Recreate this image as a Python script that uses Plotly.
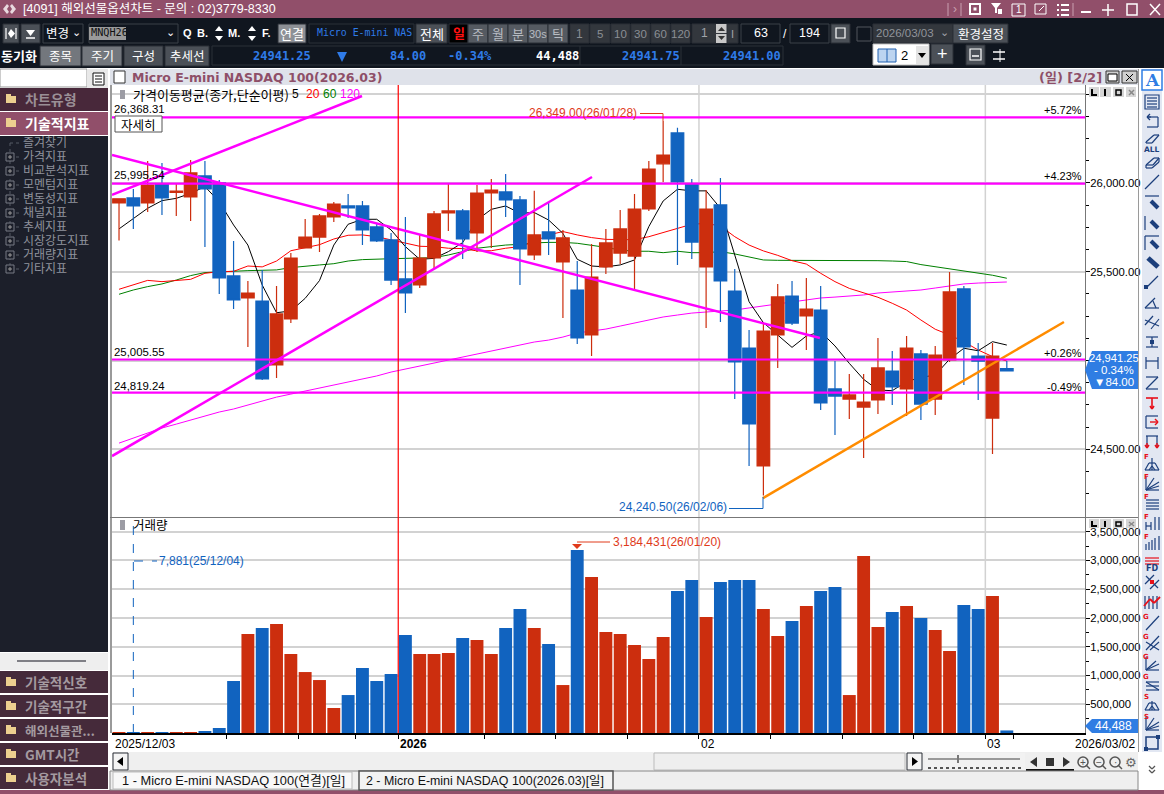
import plotly.graph_objects as go

# ---------- data ----------
opens = [25887,25915,25887,25994,25947,25921,26039,26000,25476,25352,
         25335,24975,25234,25634,25695,25808,25870,25870,25752,25679,
         25459,25425,25577,25831,25842,25718,25943,25949,25904,25594,
         25724,25555,25397,25144,25527,25605,25588,25853,26107,26281,
         25994,25527,25876,25391,25070,24406,25144,25363,25251,25284,
         24840,24783,24738,24778,24941,24840,25037,24783,25003,25403,
         25025,24676,24955]
closes = [25910,25870,25988,25915,25953,26056,25966,25465,25341,25380,
          24896,25262,25577,25695,25814,25881,25859,25735,25673,25453,
          25380,25577,25825,25842,25684,25943,25960,25904,25628,25707,
          25684,25690,25127,25470,25662,25741,25853,26078,26157,26005,
          25667,25853,25448,24992,24643,25166,25358,25211,25290,24761,
          24800,24806,24766,24958,24851,25070,24755,25031,25386,25076,
          24997,25025,24941.25]
highs = [25910,25966,26123,26112,25994,26129,26123,26016,25673,25448,
         25510,25420,25605,25797,25825,25893,25938,25898,25774,25718,
         25808,25707,25842,26000,25853,25988,26022,26050,25926,25955,
         25893,25735,25560,25656,25741,25848,25938,26123,26349,26310,
         26022,25960,26028,25515,25172,25217,25431,25448,25465,25420,
         24997,24924,24924,25127,25054,25138,25059,25082,25498,25420,
         25099,25099,24997]
lows = [25675,25741,25836,25819,25814,25786,25639,25375,25290,25076,
        24890,24902,25211,25634,25611,25780,25802,25650,25667,25425,
        25268,25408,25521,25729,25572,25611,25634,25808,25425,25566,
        25594,25239,25093,25025,25487,25543,25403,25842,26005,25538,
        25572,25183,25217,24783,24406,24240.5,24958,25200,25059,24721,
        24581,24671,24451,24699,24750,24688,24665,24693,24992,24862,
        24778,24474,24938]
volume = [15000,7881,15000,15000,15000,15000,35000,87000,904000,1720000,
          1825000,1895000,1373000,1060000,921000,435000,660000,1130000,904000,1026000,
          1703000,1373000,1373000,1390000,1651000,1617000,1373000,1825000,2155000,1825000,
          1547000,834000,3184431,2712000,1756000,1720000,1530000,1286000,1669000,2468000,
          2660000,2016000,2625000,2660000,2660000,2155000,1686000,1947000,2207000,2468000,
          2538000,660000,3077000,1842000,2103000,2207000,2000000,1790000,1425000,2225000,
          2155000,2381000,44488]
ma5 = [25741,25801,25857,25900,25913,25941,25979,25894,25763,25650,
       25425,25269,25279,25350,25450,25650,25767,25795,25795,25735,
       25641,25570,25575,25613,25664,25791,25851,25870,25829,25833,
       25791,25716,25570,25532,25527,25538,25566,25754,25898,25964,
       25955,25955,25857,25594,25331,25213,25144,25074,25138,25162,
       25082,24984,24894,24834,24830,24881,24905,24918,25007,25069,
       25055,25106,25087]
ma20 = [25401,25425,25451,25444,25450,25457,25491,25500,25502,25532,
        25527,25560,25618,25637,25652,25684,25705,25707,25697,25679,
        25660,25643,25641,25632,25630,25617,25618,25632,25641,25669,
        25707,25726,25707,25692,25682,25680,25680,25697,25720,25744,
        25767,25772,25757,25697,25650,25617,25592,25562,25543,25491,
        25444,25406,25382,25356,25322,25284,25228,25176,25144,25106,
        25059,25022,24997]
ma60 = [25373,25397,25416,25431,25453,25478,25495,25500,25502,25506,
        25508,25510,25523,25532,25538,25545,25560,25568,25572,25573,
        25575,25579,25579,25594,25613,25632,25641,25650,25654,25662,
        25665,25665,25660,25650,25637,25622,25615,25615,25607,25615,
        25607,25607,25613,25600,25585,25566,25564,25564,25562,25564,
        25566,25566,25566,25562,25560,25557,25540,25528,25519,25508,
        25495,25480,25463]
ma120 = [24535,24564,24592,24620,24642,24665,24687,24710,24727,24749,
         24772,24794,24811,24828,24845,24862,24879,24896,24913,24935,
         24952,24969,24986,25003,25020,25037,25053,25070,25087,25104,
         25115,25132,25155,25166,25177,25194,25211,25228,25245,25256,
         25267,25273,25279,25284,25296,25307,25318,25329,25341,25352,
         25357,25363,25369,25380,25386,25391,25397,25408,25419,25431,
         25436,25439,25442]
bar_index = list(range(63))

hline_levels = [26368.31, 25995.54, 25005.55, 24819.24]
hline_labels = ["26,368.31", "25,995.54", "25,005.55", "24,819.24"]
hline_pcts = ["+5.72%", "+4.23%", "+0.26%", "-0.49%"]
trend_up_x = [-0.49, 33.03];   trend_up_y = [24462, 26033]
trend_top_x = [-0.49, 16.97];  trend_top_y = [25932, 26489]
trend_dn_x = [-0.49, 48.95];   trend_dn_y = [26157, 25127]
trend_or_x = [44.97, 65.99];   trend_or_y = [24225, 25217]

price_ticks = [24500, 25000, 25500, 26000, 26500]
price_labels = ["24,500.00", "", "25,500.00", "26,000.00", ""]
price_minor = [24250,24375,24625,24750,24875,25125,25250,25375,25625,25750,25875,26125,26250,26375]
vol_ticks = [500000,1000000,1500000,2000000,2500000,3000000,3500000]
vol_minor = [250000,750000,1250000,1750000,2250000,2750000,3250000]
x_ticks = [7.5,12.5,16.5,19.5,25.5,30.5,35.5,40.5,45.5,50.5,55.5,60.5,62.5]
year_line = 19.5
month_lines = [40.5, 60.5]

RED = "#cc2e0e"; BLUE = "#1163bf"; MAG = "#ff00ff"; ORG = "#ff8c00"
W, H = 1164, 794
SANS = "Liberation Sans, Noto Sans CJK KR"
KR = "Noto Sans CJK KR"
MONO = "DejaVu Sans Mono"

shapes, annos = [], []
def px(x): return x / W
def py(y): return 1 - y / H
def rect(x0, y0, x1, y1, fill=None, line=None, lw=1):
    shapes.append(dict(type="rect", xref="paper", yref="paper", x0=px(x0), x1=px(x1), y0=py(y1), y1=py(y0),
                       fillcolor=fill or "rgba(0,0,0,0)", line=dict(color=line or "rgba(0,0,0,0)", width=lw if line else 0)))
def ln(x0, y0, x1, y1, color="#000", lw=1, dash=None):
    shapes.append(dict(type="line", xref="paper", yref="paper", x0=px(x0), x1=px(x1), y0=py(y0), y1=py(y1),
                       line=dict(color=color, width=lw, dash=dash or "solid")))
def poly(pts, fill):
    d = "M " + " L ".join(f"{px(x):.5f},{py(y):.5f}" for x, y in pts) + " Z"
    shapes.append(dict(type="path", xref="paper", yref="paper", path=d, fillcolor=fill, line=dict(width=0)))
def txt(x, y, s, size=12, color="#000", anchor="left", family=SANS, bold=False):
    annos.append(dict(xref="paper", yref="paper", x=px(x), y=py(y), text=f"<b>{s}</b>" if bold else s, showarrow=False,
                      xanchor=anchor, yanchor="middle", align=anchor, borderpad=0,
                      font=dict(family=family, size=size, color=color)))
def btn(x0, y0, x1, y1, label, fill="#4b5057", color="#fff", size=13, family=KR):
    rect(x0, y0, x1, y1, fill, "#2b2f36")
    if label:
        txt((x0 + x1) / 2, (y0 + y1) / 2, label, size, color, "center", family)

# ---------- window chrome ----------
rect(0, 0, W, 18, "#914f6a")
rect(0, 18, W, 68, "#10161f")
txt(22, 9, "[4091] 해외선물옵션차트 - 문의 : 02)3779-8330", 12.5, "#ffffff")
poly([(3,9),(7,4),(9,6),(7,9),(9,12),(7,14)], "#e8d8de"); poly([(16,9),(12,4),(10,6),(12,9),(10,12),(12,14)], "#e8d8de")
# title bar icons
ln(948,3,948,16,"#c9a0b0"); ln(961,3,961,16,"#c9a0b0"); txt(955,9,"›",12,"#c9a0b0","center")
rect(970,4,980,14,None,"#fff",2); rect(973.5,7.5,976.5,10.5,"#fff")
poly([(991,3),(1001,3),(997,8),(997,13),(995,13),(995,8)],"#fff"); rect(998,9,1002,14,"#fff")
rect(1012,4,1025,16,None,"#fff",1); txt(1018.5,10,"1",10,"#fff","center")
rect(1035,4,1046,14,None,"#fff",1); ln(1039,11,1044,6,"#fff",1)
for yy in (5,10,15):
    rect(1057,yy-1,1059,yy+1,"#fff"); ln(1061,yy,1069,yy,"#fff",2)
ln(1073,3,1073,16,"#c9a0b0")
ln(1081,12,1091,12,"#fff",2)
ln(1108,4,1108,16,"#fff",1.5); ln(1102,10,1114,10,"#fff",1.5)
rect(1127,4,1137,15,None,"#fff",1.5)
ln(1150,4,1160,15,"#fff",1.5); ln(1160,4,1150,15,"#fff",1.5)

# toolbar row 1
y0, y1 = 24, 43
btn(3,y0,19,y1,"",fill="#4b5057"); ln(6,28,6,39,"#fff",1.2); ln(16,28,16,39,"#fff",1.2); poly([(11,29),(15,33.5),(11,38),(8,33.5)],"#fff")
btn(21,y0,40,y1,""); poly([(26,30),(35,30),(30.5,36)],"#fff"); ln(26,38,35,38,"#fff",1.5)
rect(43,y0,83,y1,"#10161f","#3a4048"); txt(45,33,"변경",12.5,"#fff",family=KR); txt(76,32,"⌄",11,"#fff","center",family=SANS)
rect(89,y0,178,y1,"#10161f","#3a4048"); rect(89,27,126,40,"#9a9a9a"); txt(89.5,33,"MNQH26",10.2,"#111",family=MONO)
txt(170,32,"⌄",11,"#fff","center",SANS)
for x,s in ((187,"Q"),(202,"B."),(234,"M."),(266,"F.")):
    txt(x,33,s,11,"#fff","center",SANS,True)
for x in (219,252):
    poly([(x-4,31),(x+4,31),(x,26)],"#fff"); poly([(x-4,36),(x+4,36),(x,41)],"#fff")
btn(278,y0,306,y1,"연결",fill="#8d9096",size=13)
rect(309,y0,414,y1,"#10161f","#2a3038"); txt(316,33,"Micro E-mini NAS",9.9,"#2f7be8",family=MONO)
btn(416,y0,447,y1,"전체")
rect(449,y0,468,y1,"#000","#2b2f36"); txt(458.5,33,"일",13,"#ff1010","center",KR,True)
for x0,x1,s in ((468,488,"주"),(488,508,"월"),(508,528,"분"),(528,548,"30s"),(548,568,"틱")):
    btn(x0,y0,x1,y1,s,fill="#555a61",color="#b8bcc2",size=11 if s=="30s" else 13,family=SANS if s=="30s" else KR)
btn(570,y0,589,y1,"1",fill="#33373d",color="#8b8f95",size=12,family=SANS)
for x0,x1,s in ((590,610,"5"),(611,630,"10"),(631,650,"30"),(651,670,"60"),(671,690,"120")):
    btn(x0,y0,x1,y1,s,fill="#33373d",color="#8b8f95",size=11.5,family=SANS)
btn(692,y0,727,y1,"",fill="#33373d",color="#a0a4aa",size=12,family=SANS)
txt(704,33,"1",12,"#a0a4aa","center")
rect(716,y0,727,33,"#c8c8c8"); rect(716,34,727,y1,"#c8c8c8")
poly([(718,31),(725,31),(721.5,27)],"#333"); poly([(718,36),(725,36),(721.5,40)],"#333")
btn(727,y0,738,y1,"I",fill="#33373d",color="#a0a4aa",size=11,family=SANS)
rect(741,y0,780,y1,"#10161f","#3a4048"); txt(760.5,33,"63",12.5,"#fff","center",SANS)
txt(785,34,"/",12,"#fff","center",SANS)
rect(790,y0,829,y1,"#10161f","#3a4048"); txt(809.5,33,"194",12.5,"#fff","center",SANS)
btn(831,y0,850,y1,""); rect(836,28,845,38,None,"#fff",1.2)
rect(857,27,871,41,None,"#50555c")
rect(873,y0,953,y1,"#33373d","#2b2f36"); txt(875,33,"2026/03/03",11.5,"#90949a",family=SANS); txt(944,32,"⌄",11,"#a0a4aa","center",SANS)
btn(953,y0,1008,y1,"환경설정",size=12.5)

# toolbar row 2
txt(0,56,"동기화",13,"#fff",family=KR,bold=True)
for x0,x1,s,f in ((40,81,"종목","#73777d"),(82,122,"주기","#73777d"),(124,163,"구성","#4b5057"),(165,209,"추세선","#4b5057")):
    btn(x0,46,x1,66,s,fill=f,size=12.5)
rect(212,46,783,65,"#10161f","#2a3038")
for x in (580,681):
    ln(x,46,x,65,"#2a3038")
for x,s,c in ((282,"24941.25","#2f7be8"),(408,"84.00","#2f7be8"),(470,"-0.34%","#2f7be8"),(557,"44,488","#ffffff"),(651,"24941.75","#2f7be8"),(752,"24941.00","#2f7be8")):
    txt(x,56,s,12,c,"center",MONO,True)
poly([(337,52),(347,52),(342,62)],"#2f7be8")
rect(873,44,929,65,"#ffffff","#c0c0c0"); rect(878,49,896,62,"#bcd4f0","#2060b0"); ln(887,49,887,62,"#2060b0")
txt(904,55,"2",13,"#000","center",SANS); rect(916,46,928,64,"#e4e4e4"); poly([(918,53),(926,53),(922,58)],"#000")
btn(931,44,953,64,"+",size=18,family=SANS)
btn(966,45,985,65,""); rect(970,49,981,60,None,"#fff",1.2); ln(972,56,979,56,"#fff",1.5)
rect(989,45,1008,65,"#10161f"); ln(993,52,1005,52,"#fff",1.5); ln(993,59,1005,59,"#fff",1.5); ln(1000,49,1000,62,"#fff",1)

# left panel
rect(0,69,87,87,"#ffffff","#999999"); rect(87,69,108,88,"#e8e8e8")
rect(93,73,104,85,"#ffffff","#111",1); [ln(95,yy,102,yy,"#111") for yy in (76,79,82)]
rect(0,88,108,111,"#48283a"); rect(0,112,108,135,"#914f6a"); rect(0,136,108,652,"#1c1f2a")
def folder(y, fill="#eccf8f"):
    rect(6,y-3,16,y+4,fill); rect(6,y-5,11,y-2,fill)
folder(99); txt(24,99,"차트유형",14,"#9a8f96",family=KR,bold=True)
folder(123); txt(24,123,"기술적지표",14,"#ffffff",family=KR,bold=True)
tree_items = ["즐겨찾기","가격지표","비교분석지표","모멘텀지표","변동성지표","채널지표","추세지표","시장강도지표","거래량지표","기타지표"]
tree_y = [143,157,171,185,199,213,227,241,255,269]
ln(10,143,10,269,"#555a64",1,"dot")
for k,(s,yy) in enumerate(zip(tree_items,tree_y)):
    ln(10,yy,20,yy,"#555a64",1,"dot")
    if k:
        rect(6,yy-4,14,yy+4,"#1c1f2a","#777a84"); ln(8,yy,12,yy,"#999"); ln(10,yy-2,10,yy+2,"#999")
    txt(22,yy,s,12,"#8f929c",family=SANS)
rect(0,653,108,670,"#eeeeee"); ln(17,661,86,661,"#7f7f85",2)
for k,s in enumerate(["기술적신호","기술적구간","해외선물관...","GMT시간","사용자분석"]):
    yy = 682 + 24*k
    rect(0,671+24*k,108,693+24*k,"#452a3a")
    folder(yy); txt(24,yy,s,13.5 if k!=2 else 12.5,"#a49aa0",family=KR,bold=True)
rect(0,790,W,794,"#914f6a")

# chart header
rect(110,69,1138,85,"#dfe2ea")
rect(114,71,125,83,"#ffffff","#333")
txt(131,77,"Micro E-mini NASDAQ 100(2026.03)",12.5,"#8e4f68",family="DejaVu Sans",bold=True)
txt(1103,77,"(일) [2/2]",13,"#8e4f68","right",family="DejaVu Sans, Noto Sans CJK KR",bold=True)
rect(1106,71,1119,83,"#cfcfcf","#333"); rect(1108,74,1117,81,"#fff","#000")
rect(1122,71,1137,83,"#cfcfcf","#333"); ln(1126,74,1133,81,"#000"); ln(1133,74,1126,81,"#000")

# pane controls (both panes)
for t in (87,519):
    b = t + (10 if t==87 else 9)
    for x0,x1 in ((1089,1099),(1100,1111),(1113,1124),(1126,1136)):
        rect(x0,t,x1,b,"#d6d6d6")
    ln(1092,t+2,1092,b-1,"#000",2); ln(1092,b-2,1097,b-2,"#000",2)
    ln(1105,t+2,1105,b-1,"#000",2)
    rect(1116,t+3,1121,b-2,None,"#000",1.5)
    ln(1129,t+3,1134,b-2,"#888",1.5); ln(1134,t+3,1129,b-2,"#888",1.5)

# pane borders and dividers
ln(111,85,111,733,"#9a9a9a",2)
ln(1138.5,69,1138.5,752,"#9a9a9a",1)
ln(110,517.5,1138,517.5,"#777777",1)

# legend texts
rect(120,90,125,99,"#9c9ca4"); txt(132,94,"가격이동평균(종가,단순이평)",13,"#000",family=KR)
txt(295,94,"5",12,"#000","center"); txt(312.5,94,"20",12,"#ff0000","center"); txt(329.5,94,"60",12,"#008000","center"); txt(350,94,"120",12,"#ff00ff","center")
rect(115,116,162,132,"#ffffff","#555"); txt(138.5,124,"자세히",12.5,"#000","center",KR)
rect(120,520,125,530,"#9c9ca4"); txt(132,524,"거래량",12.5,"#000",family=KR)

# horizontal level labels
for v,s,p,yy in zip(hline_levels,hline_labels,hline_pcts,(109,175,352,386)):
    txt(113,yy,s,11.4,"#000")
    txt(1083,yy+1,p,11,"#000","right")

# callouts
txt(638,113,"26,349.00(26/01/28)",12,"#e03a1a","right"); ln(640,113.5,663,113.5,"#e03a1a"); ln(663,113.5,663,121,"#e03a1a")
txt(728,507,"24,240.50(26/02/06)",12,BLUE,"right"); ln(729,508.5,763,508.5,BLUE); ln(763,508.5,763,497,BLUE)
txt(158,561,"7,881(25/12/04)",12,BLUE); ln(134,561,157,561,BLUE,1,"dash")
txt(612,542,"3,184,431(26/01/20)",12,"#e03a1a"); ln(577,542,610,542,"#e03a1a"); poly([(572,544),(582,544),(577,549)],"#e03a1a")

# price and volume tags
poly([(1086,351),(1138,351),(1138,389),(1092,389),(1085,370),(1092,351)],"#2f7de3")
txt(1113.5,358,"24,941.25",11.2,"#fff","center"); txt(1113.5,370,"- 0.34%",11.5,"#fff","center"); txt(1113.5,382,"▼84.00",11.5,"#fff","center")
poly([(1092,719),(1138,719),(1138,733),(1092,733),(1085,726)],"#2f7de3")
txt(1113,726,"44,488",12,"#fff","center")

# x labels (date axis row)
axfont = dict(family=SANS,size=12,color="#000")
for xv, s in ((-0.42,"2025/12/03"),(19.5,"<b>2026</b>"),(40.5,"02"),(60.5,"03")):
    annos.append(dict(xref="x2",yref="paper",x=xv,y=py(744),text=s,showarrow=False,xanchor="left",yanchor="middle",font=axfont))
txt(1136,744,"2026/03/02",12,"#000","right")

# bottom scroll row and tabs
rect(112,752,1138,771,"#efefef")
btn(113,753,128,770,"",fill="#f4f4f4"); poly([(123,757),(123,766),(117,761.5)],"#000")
rect(654,753,905,770,"#eeeeee","#bbbbbb")
btn(907,753,922,770,"",fill="#f4f4f4"); poly([(912,757),(912,766),(918,761.5)],"#000")
rect(925,753,1025,771,"#f2f2f2")
ln(928,759,1020,759,"#999",2); ln(958,755,958,763,"#777",2)
ln(928,768,1021,768,"#555",2,"dot")
rect(1026,769,1074,771,"#111")
poly([(1037,757),(1037,767),(1030,762)],"#333"); rect(1046,758,1054,766,"#333"); poly([(1063,757),(1063,767),(1070,762)],"#333")
for x,s in ((1083,"+"),(1099,"−"),(1115,"·")):
    shapes.append(dict(type="circle",xref="paper",yref="paper",x0=px(x-5),x1=px(x+5),y0=py(767),y1=py(757),line=dict(color="#555",width=1.5)))
    txt(x,762,s,10,"#555","center")
    ln(x+3,765,x+7,769,"#555",1.5)
txt(1131,762,"⚙",13,"#666","center","DejaVu Sans")
rect(110,771,1138,790,"#efefef","#888888")
rect(113,772,352,789,"#f8f8f8","#bbbbbb"); txt(121,780.5,"1 - Micro E-mini NASDAQ 100(연결)[일]",12.8,"#111")
rect(359,771,613,790,"#f3f3f3","#555555",1.5); txt(365,781,"2 - Micro E-mini NASDAQ 100(2026.03)[일]",12.4,"#111")

# right tool panel
rect(1142,69,1162,752,"#e2e7f2")
NV = "#1c3f7c"; RD = "#e8101a"
rect(1142,70,1162,90,"#ffffff","#2f7de3",1.5); txt(1152,80,"A",17,"#2f7de3","center","DejaVu Serif",True)
def seg(y, lines, color=NV, lw=1.2):
    for a,b,c,d in lines:
        ln(1152+a,y+b,1152+c,y+d,color,lw)
def tag(y, s):
    txt(1146,y-6,s,7,RD,"center","DejaVu Sans",True)
rect(1145,95,1159,109,None,NV,1.2); seg(102,[(-5,-4,5,-4),(-5,-1,5,-1),(-5,2,5,2),(-5,5,5,5)])
seg(122,[(-5,-5,-1,-5),(-5,-5,-2,-8),(-5,-5,-2,-2),(-5,-5,6,-5),(6,-5,6,5),(6,5,-5,5)])
seg(140,[(-6,2,2,-5),(2,-5,7,-5),(7,-5,0,3),(0,3,-6,3),(-6,3,-6,2)]); txt(1152,149,"ALL",7.5,NV,"center","DejaVu Sans",True)
seg(163,[(-6,2,2,-5),(2,-5,7,-5),(7,-5,7,-1),(7,-1,0,5),(0,5,-6,5),(-6,5,-6,2),(-6,2,1,2),(1,2,7,-5)])
seg(182,[(-7,7,7,-7)])
seg(202,[(-7,-6,7,-6)]); seg(202,[(-1,-1,6,6)],NV,4)
seg(223,[(-7,-7,-7,7)]); seg(223,[(-1,-2,6,5)],NV,4)
seg(243,[(-7,-7,-7,7),(-7,-7,7,-7)]); seg(243,[(-1,-2,6,5)],NV,4)
seg(262,[(-4,-4,6,5)],NV,5)
seg(282,[(-6,6,6,-6)]); rect(1144,285,1148,289,NV)
seg(302,[(-7,6,7,6),(-7,6,3,-4),(1,-1,4,6)])
seg(322,[(-7,3,1,-6),(-1,7,7,-3),(-7,-2,7,4)])
seg(342,[(-6,-5,6,-5),(-6,5,6,5),(0,-5,0,5)]); rect(1150,340,1154,344,NV)
seg(363,[(-6,-6,-6,6),(6,-6,6,6),(-6,-2,6,-2)]); 
seg(383,[(-6,-6,6,-6),(-6,6,6,-6),(-6,6,6,6)])
seg(403,[(-6,-5,6,-5),(0,-5,0,6),(-2,3,0,6),(2,3,0,6)],RD,1.6)
seg(422,[(-6,-6,6,-6),(-6,6,6,6),(-6,-6,-6,6)]); seg(422,[(-2,0,6,0),(3,-3,6,0),(3,3,6,0)],RD,1.4)
seg(442,[(-6,-6,6,-6),(-5,-6,-5,6),(5,-6,5,6)]); seg(442,[(-5,1,-5,6),(5,1,5,6),(-7,3,-5,6),(-3,3,-5,6),(3,3,5,6),(7,3,5,6)],RD,1.4)
seg(463,[(-7,7,7,7),(-7,7,-3,0),(-3,0,3,0),(3,0,7,7),(-3,7,0,3),(3,7,0,3),(0,-5,0,7)]); tag(463,"F")
seg(483,[(-6,-6,-6,7),(-6,7,7,7),(-6,7,7,-1),(-6,7,7,3),(-6,7,2,-5)]); tag(483,"F")
seg(503,[(-6,-3,7,-3),(-6,0,7,0),(-6,3,7,3),(-6,6,7,6)]); tag(503,"F")
seg(523,[(-6,-1,-6,7),(-1,-1,-1,7),(3,-6,3,7),(7,-6,7,7),(-6,3,-1,3)]); tag(523,"F")
seg(543,[(-6,1,-6,7),(-3,-1,-3,7),(0,-3,0,7),(3,-5,3,7),(7,-7,7,7)]); tag(543,"F")
seg(563,[(-7,-2,7,-2),(-7,1,7,1),(-7,-5,7,-5)],RD,1.2); txt(1152,568,"FD",8,NV,"center","DejaVu Sans",True)
seg(582,[(-7,2,2,-7),(-2,7,7,-2),(-6,-6,6,6)]); rect(1150,580,1154,584,RD)
seg(602,[(-7,-6,-7,7),(-3,-6,-3,7),(1,-6,1,7),(5,-6,5,7)]); seg(602,[(-8,4,-2,-3),(-2,-3,2,1),(2,1,8,-5)],RD,1.8)
seg(623,[(-6,7,7,-7)]); tag(623,"G")
seg(643,[(-6,-1,7,7),(-6,7,7,-7),(-2,7,7,-1)]); tag(643,"G")
seg(663,[(-6,-6,-6,7),(-6,7,7,7),(-6,7,7,1),(-6,7,4,-2)]); tag(663,"G")
seg(683,[(-6,-1,7,7),(-6,3,7,3),(-6,7,7,7),(-6,-1,7,-1)]); tag(683,"G")
seg(703,[(-7,7,7,7),(-7,7,-3,0),(-3,0,3,0),(3,0,7,7),(-3,7,0,3),(3,7,0,3),(0,-2,0,7)]); tag(703,"S")
seg(723,[(-6,-6,-6,7),(-6,7,7,7),(-6,7,7,-1),(-6,7,7,3),(-6,7,2,-5)]); tag(723,"S")
rect(1146,737,1158,749,None,NV,1.5); rect(1156,735,1160,739,NV); rect(1144,747,1148,751,NV)
seg(769,[(-3,-3,0,0),(3,-3,0,0),(-3,1,0,4),(3,1,0,4)],"#555",1.2)

# ---------- traces ----------
fig = go.Figure()
for series, color in ((ma120,"#ff00ff"),(ma60,"#008000"),(ma20,"#ff0000"),(ma5,"#000000")):
    fig.add_trace(go.Scatter(x=bar_index, y=series, mode="lines", line=dict(color=color, width=1), xaxis="x", yaxis="y", hoverinfo="skip"))
fig.add_trace(go.Candlestick(x=bar_index, open=opens, high=highs, low=lows, close=closes, xaxis="x3", yaxis="y3", whiskerwidth=0,
                             increasing=dict(line=dict(color=RED, width=1.2), fillcolor=RED),
                             decreasing=dict(line=dict(color=BLUE, width=1.2), fillcolor=BLUE)))
for tx, ty in ((trend_up_x,trend_up_y),(trend_top_x,trend_top_y),(trend_dn_x,trend_dn_y)):
    fig.add_trace(go.Scatter(x=tx, y=ty, mode="lines", line=dict(color=MAG, width=2.5), xaxis="x4", yaxis="y4", hoverinfo="skip"))
fig.add_trace(go.Scatter(x=trend_or_x, y=trend_or_y, mode="lines", line=dict(color=ORG, width=2.5), xaxis="x4", yaxis="y4", hoverinfo="skip"))
for lv in hline_levels:
    fig.add_trace(go.Scatter(x=[-0.49,67.46], y=[lv,lv], mode="lines", line=dict(color=MAG, width=2.2), xaxis="x4", yaxis="y4", hoverinfo="skip"))
vol_colors = [RED if c >= o else BLUE for o, c in zip(opens, closes)]
fig.add_trace(go.Bar(x=bar_index, y=volume, marker=dict(color=vol_colors, line=dict(width=0)), width=0.9, xaxis="x2", yaxis="y2", hoverinfo="skip"))

# vertical lines
for m in month_lines:
    shapes.append(dict(type="line", xref="x2", yref="paper", x0=m, x1=m, y0=py(733), y1=py(85), layer="below", line=dict(color="#d2d2d2", width=1.5)))
shapes.append(dict(type="line", xref="x2", yref="paper", x0=year_line, x1=year_line, y0=py(733), y1=py(85), line=dict(color="#ff0000", width=1.2)))
shapes.append(dict(type="line", xref="x2", yref="paper", x0=1, x1=1, y0=py(733), y1=py(520), line=dict(color=BLUE, width=1, dash="dash")))

xdom = [112/W, 1085/W]
xr = [-0.49, 67.46]
pdom = [1-517/H, 1-85/H]
vdom = [1-733/H, 1-518/H]
pr = [24119, 26551]
vr = [0, 3739000]
tickf = dict(family=SANS, size=11.3, color="#000")
hidden = dict(visible=False, fixedrange=True, showgrid=False, zeroline=False)
fig.update_layout(
    width=W, height=H, autosize=False, margin=dict(l=0, r=0, t=0, b=0), showlegend=False,
    paper_bgcolor="#ffffff", plot_bgcolor="#ffffff", boxgap=0.12, boxgroupgap=0, hovermode=False,
    xaxis=dict(domain=xdom, range=xr, anchor="y", visible=False, fixedrange=True, rangeslider=dict(visible=False)),
    yaxis=dict(domain=pdom, range=pr, side="right", anchor="x", tickmode="array", tickvals=price_ticks, ticktext=price_labels,
               showgrid=True, gridcolor="#d2d2d2", gridwidth=1.5, zeroline=False, ticks="outside", ticklen=4, tickcolor="#000",
               tickfont=tickf, ticklabelstandoff=-2, showline=True, linecolor="#777777", linewidth=1,
               minor=dict(tickvals=price_minor, ticks="outside", ticklen=3, tickcolor="#000", showgrid=False)),
    xaxis3=dict(overlaying="x", anchor="y3", range=xr, rangeslider=dict(visible=False), **hidden),
    yaxis3=dict(overlaying="y", anchor="x3", range=pr, side="right", **hidden),
    xaxis4=dict(overlaying="x", anchor="y4", range=xr, **hidden),
    yaxis4=dict(overlaying="y", anchor="x4", range=pr, side="right", **hidden),
    xaxis2=dict(domain=xdom, range=xr, anchor="y2", tickmode="array", tickvals=x_ticks, ticktext=[""]*len(x_ticks), ticks="outside", ticklen=4,
                tickcolor="#000", showgrid=False, zeroline=False, showline=True, linecolor="#000", linewidth=1.5, fixedrange=True),
    yaxis2=dict(domain=vdom, range=vr, side="right", anchor="x2", tickmode="array", tickvals=vol_ticks, tickformat=",d",
                showgrid=True, gridcolor="#d2d2d2", gridwidth=1.5, zeroline=False, ticks="outside", ticklen=4, tickcolor="#000",
                tickfont=tickf, ticklabelstandoff=-2, showline=True, linecolor="#777777", linewidth=1,
                minor=dict(tickvals=vol_minor, ticks="outside", ticklen=3, tickcolor="#000", showgrid=False)),
    shapes=shapes, annotations=annos,
)
fig.write_html("out.html", config=dict(displayModeBar=False),
               post_script="document.body.style.margin='0';document.body.style.overflow='hidden';")
